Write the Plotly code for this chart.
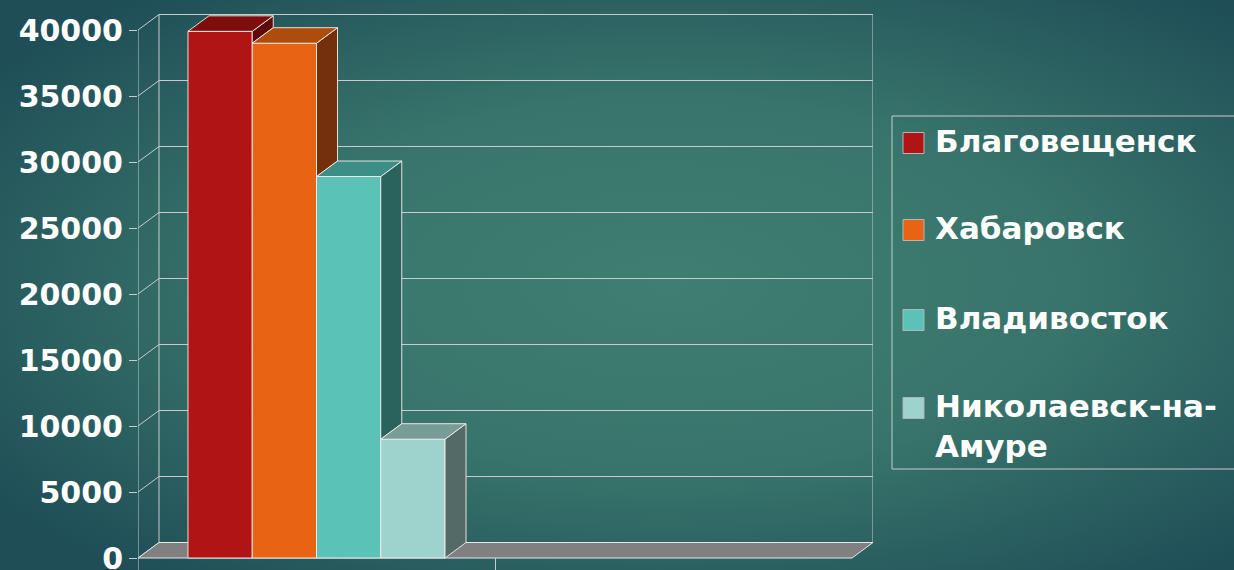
import base64
import plotly.graph_objects as go

# ---------------- data ----------------
cities = ["Благовещенск", "Хабаровск", "Владивосток", "Николаевск-на-<br>Амуре"]
values = [39900, 39000, 28900, 9000]
y_ticks = [0, 5000, 10000, 15000, 20000, 25000, 30000, 35000, 40000]
y_tick_text = ["0", "5000", "10000", "15000", "20000", "25000", "30000", "35000", "40000"]

# ---------------- styles ----------------
front_colors = ["#B01414", "#E86414", "#5BC2B8", "#9ED2CC"]
top_colors = ["#7E0E0C", "#AE4C0C", "#3E8E88", "#789C98"]
side_colors = ["#5E0A0A", "#74300C", "#2A625E", "#546A66"]
edge = "rgba(245,240,235,0.9)"
grid_col = "#C8CCCC"
FONT = "DejaVu Sans"

W, H = 1234, 570
ML, MR, MT, MB = 138, 361, 10, 0
PW, PH = W - ML - MR, H - MT - MB

X_MIN, X_MAX = -0.5, 1.5 + 21 / 357
Y_MIN, Y_MAX = -909, 41515
px_per_x = PW / (X_MAX - X_MIN)
px_per_y = PH / (Y_MAX - Y_MIN)
DX = 21 / px_per_x          # depth offset in x units
DY = 15.5 / px_per_y        # depth offset in y units
BAR_W = 0.18
GROUP_START = -0.36


def paper_x(px):
    return (px - ML) / PW


def paper_y(py):
    return (H - MB - py) / PH


fig = go.Figure()

# front faces (bars)
for i, (name, v) in enumerate(zip(cities, values)):
    fig.add_trace(go.Bar(
        x=[0], y=[v], width=[BAR_W], offset=[GROUP_START + BAR_W * i],
        marker=dict(color=front_colors[i], line=dict(color=edge, width=1)),
        name=name.replace("<br>", ""), showlegend=False, hoverinfo="skip",
    ))

# top and side faces
for i, v in enumerate(values):
    x0 = GROUP_START + BAR_W * i
    x1 = x0 + BAR_W
    nxt = values[i + 1] if i + 1 < len(values) else 0
    low = min(nxt, v)
    # side face (only the part visible above the next bar)
    fig.add_trace(go.Scatter(
        x=[x1, x1, x1 + DX, x1 + DX, x1],
        y=[low, v, v + DY, low + DY, low],
        mode="lines", fill="toself", fillcolor=side_colors[i],
        line=dict(color=edge, width=1), showlegend=False, hoverinfo="skip",
    ))
    # top face
    fig.add_trace(go.Scatter(
        x=[x0, x1, x1 + DX, x0 + DX, x0],
        y=[v, v, v + DY, v + DY, v],
        mode="lines", fill="toself", fillcolor=top_colors[i],
        line=dict(color=edge, width=1), showlegend=False, hoverinfo="skip",
    ))

shapes = []
# back wall grid lines and connectors
top_tick = max(y_ticks)
for t in y_ticks:
    shapes.append(dict(type="line", xref="x", yref="y", layer="below",
                       x0=X_MIN + DX, x1=1.5 + DX, y0=t + DY, y1=t + DY,
                       line=dict(color=grid_col, width=1)))
    shapes.append(dict(type="line", xref="x", yref="y", layer="below",
                       x0=X_MIN, x1=X_MIN + DX, y0=t, y1=t + DY,
                       line=dict(color=grid_col, width=1)))
# back wall verticals
for xv in (X_MIN + DX, 1.5 + DX):
    shapes.append(dict(type="line", xref="x", yref="y", layer="below",
                       x0=xv, x1=xv, y0=DY, y1=top_tick + DY,
                       line=dict(color=grid_col, width=1)))
# floor
floor_path = (f"M {X_MIN},0 L 1.5,0 L {1.5 + DX},{DY} "
              f"L {X_MIN + DX},{DY} Z")
shapes.append(dict(type="path", xref="x", yref="y", layer="below", path=floor_path,
                   fillcolor="#808080", line=dict(color="#E8E8E8", width=1)))
# front value axis line
shapes.append(dict(type="line", xref="x", yref="y", layer="below",
                   x0=X_MIN, x1=X_MIN, y0=Y_MIN, y1=top_tick,
                   line=dict(color=grid_col, width=1)))

# legend box (drawn manually)
shapes.append(dict(type="rect", xref="paper", yref="paper",
                   x0=paper_x(892), x1=paper_x(1240), y0=paper_y(469), y1=paper_y(116),
                   line=dict(color="#C8CCCC", width=1), fillcolor="rgba(0,0,0,0)"))
legend_y = [143, 230, 320, 408]
annotations = []
for i, name in enumerate(cities):
    cy = legend_y[i]
    shapes.append(dict(type="rect", xref="paper", yref="paper",
                       x0=paper_x(903), x1=paper_x(924), y0=paper_y(cy + 10.5), y1=paper_y(cy - 10.5),
                       fillcolor=front_colors[i], line=dict(color="#B0B8B8", width=1)))
    annotations.append(dict(
        xref="paper", yref="paper", x=paper_x(933), y=paper_y(cy - 22),
        xanchor="left", yanchor="top", text=name, showarrow=False, align="left",
        font=dict(family=FONT, size=31, color="white", weight="bold"),
    ))

# background gradient image
svg = f"""<svg xmlns='http://www.w3.org/2000/svg' width='{W}' height='{H}'>
<defs><radialGradient id='g' cx='0.54' cy='0.5' r='0.66'>
<stop offset='0' stop-color='#3F7E71'/>
<stop offset='0.5' stop-color='#38746B'/>
<stop offset='1' stop-color='#1F4E57'/>
</radialGradient></defs>
<rect width='{W}' height='{H}' fill='url(#g)'/></svg>"""
src = "data:image/svg+xml;base64," + base64.b64encode(svg.encode()).decode()

fig.update_layout(
    width=W, height=H,
    margin=dict(l=ML, r=MR, t=MT, b=MB, autoexpand=False),
    paper_bgcolor="#2F6360", plot_bgcolor="rgba(0,0,0,0)",
    barmode="overlay",
    showlegend=False,
    shapes=shapes, annotations=annotations,
    images=[dict(source=src, xref="paper", yref="paper",
                 x=paper_x(0), y=paper_y(0), sizex=W / PW, sizey=H / PH,
                 xanchor="left", yanchor="top", sizing="stretch", layer="below")],
    xaxis=dict(range=[X_MIN, X_MAX], showgrid=False, zeroline=False, showline=False,
               tickvals=[0.5], ticks="inside", ticklen=12, tickcolor=grid_col,
               showticklabels=False, fixedrange=True),
    yaxis=dict(range=[Y_MIN, Y_MAX], showgrid=False, zeroline=False, showline=False,
               tickvals=y_ticks, ticktext=y_tick_text, ticks="outside", ticklen=8,
               tickcolor=grid_col, ticklabeloverflow="allow",
               tickfont=dict(family=FONT, size=30, color="white", weight="bold"),
               fixedrange=True),
)

fig.write_html("out.html", config={"displayModeBar": False},
               post_script="document.body.style.margin='0';document.body.style.overflow='hidden';")
